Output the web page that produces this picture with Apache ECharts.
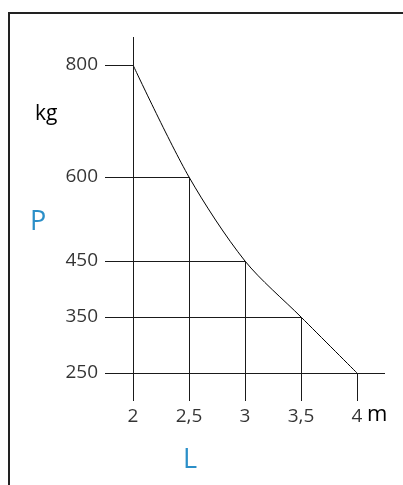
<!DOCTYPE html>
<html>
<head>
<meta charset="utf-8">
<script src="https://cdn.jsdelivr.net/npm/echarts@6/dist/echarts.min.js"></script>
<style>
html,body{margin:0;padding:0;background:#fff;}
#c{width:403px;height:485px;}
</style>
</head>
<body>
<div id="c"></div>
<script>
// Data
const lengths = [2, 2.5, 3, 3.5, 4];          // L (m)
const loads = [800, 600, 450, 350, 250];      // P (kg)
const xTickLabels = ['2', '2,5', '3', '3,5', '4'];
const yTickLabels = ['800', '600', '450', '350', '250'];

const xMin = 1.75, xMax = 4.25, yMin = 200, yMax = 850;
const FONT = "'Open Sans', sans-serif";
const BLUE = '#2b8fc8';

const chart = echarts.init(document.getElementById('c'), null, {renderer: 'canvas'});

const curve = lengths.map((l, i) => [l, loads[i]]);

// guide lines built from the data arrays
const hLines = lengths.map((l, i) => [
  {coord: [xMin, loads[i]]},
  {coord: [i === lengths.length - 1 ? xMax : l, loads[i]]}
]);
const vLines = lengths.map((l, i) => [
  {coord: [l, yMin]},
  {coord: [l, i === 0 ? yMax : loads[i]]}
]);

const option = {
  animation: false,
  backgroundColor: '#fff',
  grid: {left: 105, right: 18, top: 37, bottom: 84},
  xAxis: {type: 'value', min: xMin, max: xMax, show: false},
  yAxis: {type: 'value', min: yMin, max: yMax, show: false},
  series: [
    {
      type: 'line',
      data: curve,
      smooth: 0.3,
      showSymbol: false,
      silent: true,
      lineStyle: {color: '#000', width: 1},
      markLine: {
        silent: true,
        symbol: 'none',
        label: {show: false},
        lineStyle: {color: '#1a1a1a', width: 1, type: 'solid'},
        data: hLines.concat(vLines)
      }
    },
    {
      type: 'scatter',
      symbolSize: 0,
      silent: true,
      data: loads.map((p, i) => ({value: [xMin, p], name: yTickLabels[i]})),
      label: {
        show: true, position: 'left', distance: 7,
        formatter: p => p.name,
        fontFamily: FONT, fontSize: 19, color: '#000'
      }
    },
    {
      type: 'scatter',
      symbolSize: 0,
      silent: true,
      data: lengths.map((l, i) => ({value: [l, yMin], name: xTickLabels[i]})),
      label: {
        show: true, position: 'bottom', distance: 6,
        formatter: p => p.name,
        fontFamily: FONT, fontSize: 19, color: '#000'
      }
    }
  ],
  graphic: [
    {type: 'rect', shape: {x: 9, y: 13, width: 500, height: 500},
     style: {fill: 'none', stroke: '#222', lineWidth: 2}, silent: true},
    {type: 'text', left: 367, top: 404,
     style: {text: 'm', fontFamily: FONT, fontSize: 22, fill: '#000'}},
    {type: 'text', left: 35, top: 104,
     style: {text: 'kg', fontFamily: FONT, fontSize: 21, fill: '#000'}},
    {type: 'text', left: 30, top: 209,
     style: {text: 'P', fontFamily: FONT, fontSize: 27, fill: BLUE}},
    {type: 'text', left: 183, top: 447,
     style: {text: 'L', fontFamily: FONT, fontSize: 27, fill: BLUE}}
  ]
};
chart.setOption(option);
</script>
</body>
</html>
